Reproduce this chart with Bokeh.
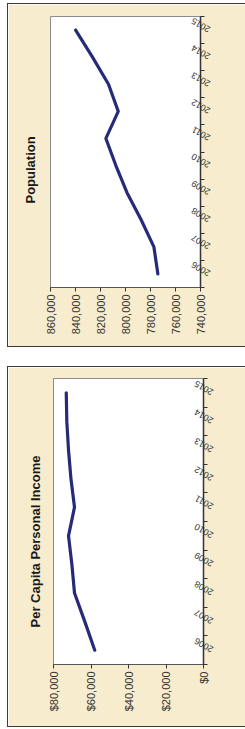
import math
from bokeh.plotting import figure
from bokeh.models import Range1d, FixedTicker, NumeralTickFormatter
from bokeh.layouts import column
from bokeh.embed import file_html
from bokeh.resources import INLINE

# ---- data ----
years = [2006, 2007, 2008, 2009, 2010, 2011, 2012, 2013, 2014, 2015]
population = [774100, 777300, 787500, 798800, 807700, 815700, 805800, 813600, 826400, 839900]
income = [58000, 63300, 68800, 70200, 72000, 68800, 70700, 72000, 72900, 73200]
pop_ticks = [740000, 760000, 780000, 800000, 820000, 840000, 860000]
inc_ticks = [0, 20000, 40000, 60000, 80000]
year_bounds = [2005.5 + i for i in range(11)]

BEIGE = "#F7ECCD"
LINE = "#262a78"
FONT = "Liberation Sans"
EDGE = "1px solid #3c3c3c"


def make(title, vals, ticks, fmt, x0, x1, height, mbl, mbr, mbt, mbb, toff, tstand):
    p = figure(width=237, height=height, output_backend="svg", toolbar_location=None,
               x_range=Range1d(x0, x1), y_range=Range1d(year_bounds[0], year_bounds[-1]),
               y_axis_location="right", title=title, title_location="left",
               min_border_left=mbl, min_border_right=mbr, min_border_top=mbt,
               min_border_bottom=mbb)
    p.border_fill_color = BEIGE
    p.background_fill_color = "white"
    p.outline_line_color = "#8c8c8c"
    p.xgrid.visible = False
    p.ygrid.visible = False

    p.title.text_font = FONT
    p.title.text_font_size = "13px"
    p.title.text_font_style = "bold"
    p.title.text_color = "#1a1a1a"
    p.title.align = "left"
    p.title.vertical_align = "middle"
    p.title.offset = toff
    p.title.standoff = tstand

    xa = p.xaxis[0]
    xa.ticker = FixedTicker(ticks=ticks)
    xa.formatter = NumeralTickFormatter(format=fmt)
    xa.major_label_orientation = math.pi / 2
    xa.major_label_text_font = FONT
    xa.major_label_text_font_size = "11px"
    xa.major_label_text_color = "#333333"
    xa.major_label_standoff = 3
    xa.major_tick_out = 4
    xa.major_tick_in = 0
    xa.minor_tick_line_color = None
    xa.axis_line_color = "#555555"
    xa.major_tick_line_color = "#333333"

    ya = p.yaxis[0]
    ya.ticker = FixedTicker(ticks=years, minor_ticks=year_bounds)
    ya.major_tick_line_color = None
    ya.minor_tick_out = 4
    ya.minor_tick_in = 0
    ya.minor_tick_line_color = "#333333"
    ya.axis_line_color = "#333333"
    ya.axis_line_width = 1.5
    ya.major_label_orientation = math.radians(150)
    ya.major_label_text_font = FONT
    ya.major_label_text_font_size = "9px"
    ya.major_label_text_color = "#333333"
    ya.major_label_standoff = 3

    p.line(x=vals, y=years, line_color=LINE, line_width=3.2,
           line_join="round", line_cap="round")
    box = column(p, styles={"border-left": EDGE, "border-top": EDGE, "border-bottom": EDGE})
    return box


b1 = make("Population", population, pop_ticks, "0,0", 860000, 740000,
          342, 42, 45, 12, 59, 84, 23)
b2 = make("Per Capita  Personal Income", income, inc_ticks, "$0,0", 80000, 0,
          359, 45, 42, 11, 62, 37, 19)

layout = column(b1, b2, spacing=19,
                styles={"margin-top": "3px", "margin-left": "7px"})

open("out.html", "w").write(file_html(layout, INLINE))
